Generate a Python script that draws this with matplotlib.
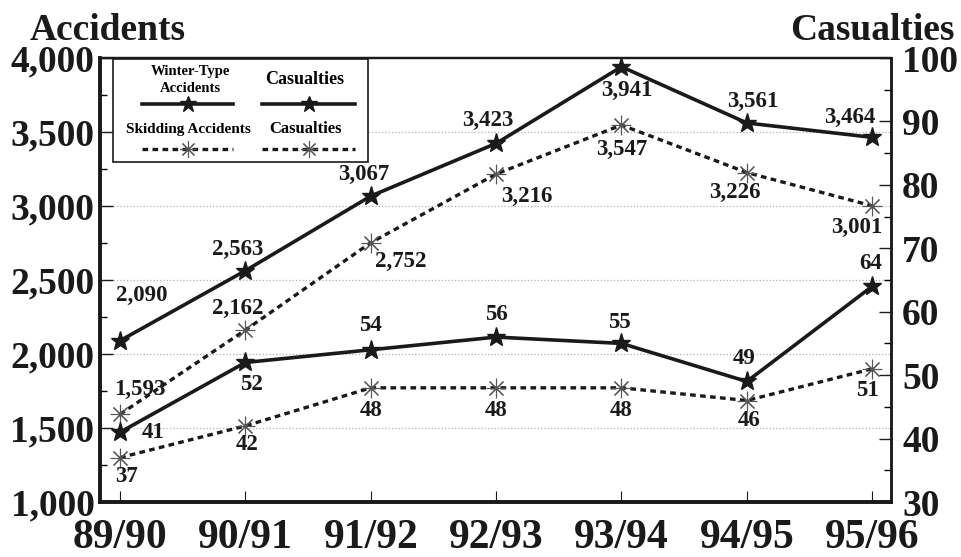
import matplotlib.pyplot as plt
from matplotlib.lines import Line2D
from matplotlib.patches import Rectangle
from matplotlib.ticker import FuncFormatter, MultipleLocator

plt.rcParams['font.family'] = ['Liberation Serif', 'DejaVu Serif']
plt.rcParams['font.weight'] = 'bold'

seasons = ["89/90", "90/91", "91/92", "92/93", "93/94", "94/95", "95/96"]
winter_acc = [2090, 2563, 3067, 3423, 3941, 3561, 3464]
skid_acc = [1593, 2162, 2752, 3216, 3547, 3226, 3001]
winter_cas = [41, 52, 54, 56, 55, 49, 64]
skid_cas = [37, 42, 48, 48, 48, 46, 51]

# label offsets in pixels (dx, dy), dy up positive
off_winter_acc = [(22, 45), (-8, 21), (-7, 22), (-8, 23), (5, -24), (6, 22), (-22, 20)]
off_skid_acc = [(20, 25), (-8, 22), (30, -19), (31, -22), (0, -24), (-12, -20), (-15, -22)]
off_winter_cas = [(33, 0), (6, -22), (0, 24), (0, 23), (-2, 21), (-3, 23), (-2, 23)]
off_skid_cas = [(6, -19), (2, -19), (0, -23), (0, -23), (0, -23), (2, -20), (-5, -22)]

fig = plt.figure(figsize=(9.61, 5.57), dpi=100)
ax = fig.add_axes([100/961, 55/557, 791/961, 444/557])
ax2 = ax.twinx()

x = list(range(len(seasons)))
ink = '#1a1a1a'
star = dict(marker='*', markersize=14, markerfacecolor=ink, markeredgecolor=ink)
aster = dict(marker=(8, 2, 0), markersize=14, markeredgecolor='#555555', markeredgewidth=0.8)

ax.plot(x, winter_acc, color=ink, lw=2.6, **star, zorder=3)
ax.plot(x, skid_acc, color=ink, lw=2.4, dashes=(1.7, 1.3), **aster, zorder=3)
ax2.plot(x, winter_cas, color=ink, lw=2.6, **star, zorder=3)
ax2.plot(x, skid_cas, color=ink, lw=2.4, dashes=(1.7, 1.3), **aster, zorder=3)

def put_labels(a, vals, offs, fmt):
    for i, (v, o) in enumerate(zip(vals, offs)):
        a.annotate(fmt(v), (i, v), xytext=o, textcoords='offset pixels',
                   ha='center', va='center', fontsize=16.5, fontweight='bold',
                   color=ink)

put_labels(ax, winter_acc, off_winter_acc, lambda v: f"{v:,}")
put_labels(ax, skid_acc, off_skid_acc, lambda v: f"{v:,}")
put_labels(ax2, winter_cas, off_winter_cas, lambda v: f"{v}")
put_labels(ax2, skid_cas, off_skid_cas, lambda v: f"{v}")

ax.set_xlim(-0.16, 6.15)
ax.set_ylim(1000, 4000)
ax2.set_ylim(30, 100)
ax.set_xticks(x)
ax.set_xticklabels(seasons)
ax.yaxis.set_major_locator(MultipleLocator(500))
ax.yaxis.set_minor_locator(MultipleLocator(250))
ax.yaxis.set_major_formatter(FuncFormatter(lambda v, p: f"{int(v):,}"))
ax2.yaxis.set_major_locator(MultipleLocator(10))
ax2.yaxis.set_minor_locator(MultipleLocator(5))

for y in range(1500, 4000, 500):
    ax.axhline(y, color='#b0b0b0', lw=0.9, ls=':', zorder=1)

ax.tick_params(axis='y', direction='in', length=9, width=1, labelsize=27, pad=4, colors=ink)
ax.tick_params(axis='y', which='minor', direction='in', length=5, width=1)
ax.tick_params(axis='x', direction='in', length=8, width=0.8, labelsize=30, pad=12, colors=ink)
ax2.tick_params(axis='y', direction='in', length=9, width=1, labelsize=27, pad=8, colors=ink)
ax2.tick_params(axis='y', which='minor', direction='in', length=5, width=1)

for a in (ax, ax2):
    a.spines['left'].set_linewidth(2.6)
    a.spines['bottom'].set_linewidth(2.6)
    a.spines['top'].set_linewidth(1.6)
    a.spines['right'].set_linewidth(1.8)
    for s in a.spines.values():
        s.set_color(ink)

fig.text(30/961, 1 - 40/557, "Accidents", fontsize=27, fontweight='bold', color=ink, va='baseline')
fig.text(955/961, 1 - 40/557, "Casualties", fontsize=27, fontweight='bold', color=ink, va='baseline', ha='right')

# hand-made legend (axes fraction coords)
def fx(px):
    return (px - 100) / 791

def fy(py):
    return (502 - py) / 444

ax2.add_patch(Rectangle((fx(113), fy(162)), fx(368) - fx(113), fy(59) - fy(162),
                        transform=ax2.transAxes, fill=True, facecolor='white',
                        edgecolor=ink, lw=1.2, zorder=5))
ax2.text(fx(190), fy(72), "Winter-Type", transform=ax2.transAxes, fontsize=10.5,
         ha='center', va='center', zorder=6)
ax2.text(fx(190), fy(89), "Accidents", transform=ax2.transAxes, fontsize=10.5,
         ha='center', va='center', zorder=6)
ax2.text(fx(305), fy(80), "Casualties", transform=ax2.transAxes, fontsize=13,
         ha='center', va='center', zorder=6)
ax2.text(fx(188), fy(130), "Skidding Accidents", transform=ax2.transAxes, fontsize=11,
         ha='center', va='center', zorder=6)
ax2.text(fx(305), fy(129), "Casualties", transform=ax2.transAxes, fontsize=12,
         ha='center', va='center', zorder=6)
for (x0, x1) in [(142, 233), (262, 355)]:
    ax2.add_line(Line2D([fx(x0), fx((x0 + x1) / 2), fx(x1)], [fy(104)] * 3,
                        transform=ax2.transAxes, color=ink, lw=2.6,
                        marker='*', markevery=[1], markersize=12,
                        markerfacecolor=ink, markeredgecolor=ink, zorder=6))
    ax2.add_line(Line2D([fx(x0), fx((x0 + x1) / 2), fx(x1)], [fy(149)] * 3,
                        transform=ax2.transAxes, color=ink, lw=2.4, dashes=(1.7, 1.3),
                        marker=(8, 2, 0), markevery=[1], markersize=12,
                        markeredgecolor='#555555', markeredgewidth=0.8, zorder=6))

fig.savefig("out.png", dpi=100)
